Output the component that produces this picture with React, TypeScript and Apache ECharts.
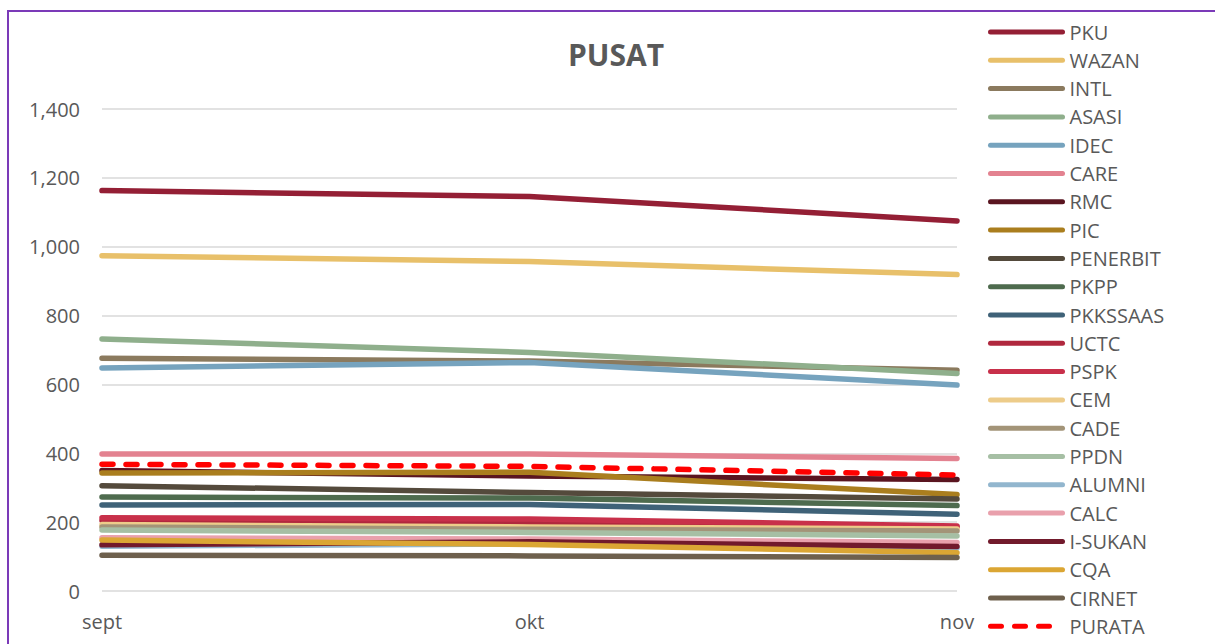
import React, { useEffect, useRef } from "react";
import * as echarts from "echarts";

const categories = ["sept", "okt", "nov"];

const seriesNames = [
  "PKU", "WAZAN", "INTL", "ASASI", "IDEC", "CARE", "RMC", "PIC", "PENERBIT", "PKPP", "PKKSSAAS",
  "UCTC", "PSPK", "CEM", "CADE", "PPDN", "ALUMNI", "CALC", "I-SUKAN", "CQA", "CIRNET", "PURATA",
];

const PKU = [1163, 1146, 1075];
const WAZAN = [974, 957, 919];
const INTL = [676, 668, 641];
const ASASI = [732, 693, 632];
const IDEC = [648, 664, 598];
const CARE = [398, 398, 385];
const RMC = [350, 334, 324];
const PIC = [343, 345, 280];
const PENERBIT = [306, 286, 267];
const PKPP = [273, 270, 248];
const PKKSSAAS = [250, 251, 223];
const UCTC = [205, 200, 186];
const PSPK = [213, 209, 189];
const CEM = [193, 186, 180];
const CADE = [186, 179, 174];
const PPDN = [177, 170, 160];
const ALUMNI = [130, 137, 125];
const CALC = [155, 151, 141];
const ISUKAN = [134, 143, 129];
const CQA = [148, 135, 111];
const CIRNET = [104, 102, 97];
const PURATA = [368, 362, 337];

const seriesValues = [
  PKU, WAZAN, INTL, ASASI, IDEC, CARE, RMC, PIC, PENERBIT, PKPP, PKKSSAAS,
  UCTC, PSPK, CEM, CADE, PPDN, ALUMNI, CALC, ISUKAN, CQA, CIRNET, PURATA,
];

const seriesColors = [
  "#941F35", "#E8C06A", "#8B7A5E", "#8FAF8C", "#76A3BE", "#E38290", "#5A1520", "#AA7E1E",
  "#544A3C", "#4E6B4E", "#3F6278", "#B0283E", "#C8304A", "#EDCC8A", "#A39478", "#A6BFA4",
  "#92B6CE", "#E9A0AC", "#721A2C", "#DBA634", "#6E604D", "#FF0000",
];

const yTicks = [0, 200, 400, 600, 800, 1000, 1200, 1400];

const FONT = "'Open Sans', sans-serif";
const TXT = "#595959";

export default function App() {
  const ref = useRef<HTMLDivElement>(null);

  useEffect(() => {
    if (!ref.current) return;
    const chart = echarts.init(ref.current, undefined, { renderer: "svg" });
    const series = seriesNames.map((name, i) => {
      const dashed = name === "PURATA";
      return {
        name,
        type: "line",
        data: seriesValues[i],
        symbol: "none",
        smooth: false,
        color: seriesColors[i],
        lineStyle: {
          width: 5.5,
          color: seriesColors[i],
          type: dashed ? [11, 13] : "solid",
          cap: "round",
          join: "round",
        },
        z: 2 + i,
      };
    });
    chart.setOption({
      animation: false,
      backgroundColor: "#ffffff",
      textStyle: { fontFamily: FONT },
      title: {
        text: "PUSAT",
        left: 611,
        top: 34,
        textAlign: "center",
        textStyle: { fontFamily: FONT, fontSize: 30, fontWeight: "bold", color: TXT },
      },
      grid: { left: 102, right: 258, top: 109, bottom: 53, containLabel: false },
      xAxis: {
        type: "category",
        data: categories,
        boundaryGap: false,
        axisLine: { show: false },
        axisTick: { show: false },
        axisLabel: { color: TXT, fontSize: 20, fontFamily: FONT, margin: 20 },
        splitLine: { show: false },
      },
      yAxis: {
        type: "value",
        min: yTicks[0],
        max: yTicks[yTicks.length - 1],
        interval: 200,
        axisLine: { show: false },
        axisTick: { show: false },
        axisLabel: {
          color: TXT,
          fontSize: 20,
          fontFamily: FONT,
          margin: 22,
          formatter: (v: number) => v.toLocaleString("en-US"),
        },
        splitLine: { lineStyle: { color: "#D9D9D9", width: 1.5 } },
      },
      legend: {
        orient: "vertical",
        left: 988,
        top: 22,
        height: 640,
        padding: 0,
        itemWidth: 72,
        itemHeight: 20,
        itemGap: 8.3,
        data: seriesNames,
        itemStyle: { opacity: 0 },
        lineStyle: { width: 5, cap: "round" },
        textStyle: { color: TXT, fontSize: 20, fontFamily: FONT, padding: [0, 0, 0, 2] },
      },
      graphic: [
        {
          type: "rect",
          shape: { x: 8, y: 11, width: 1400, height: 800 },
          style: { fill: "none", stroke: "#7B3AB8", lineWidth: 2 },
          silent: true,
          z: 100,
        },
      ],
      series,
    });
    return () => chart.dispose();
  }, []);

  return (
    <div
      ref={ref}
      style={{ position: "absolute", left: 0, top: 0, width: 1215, height: 644 }}
    />
  );
}
